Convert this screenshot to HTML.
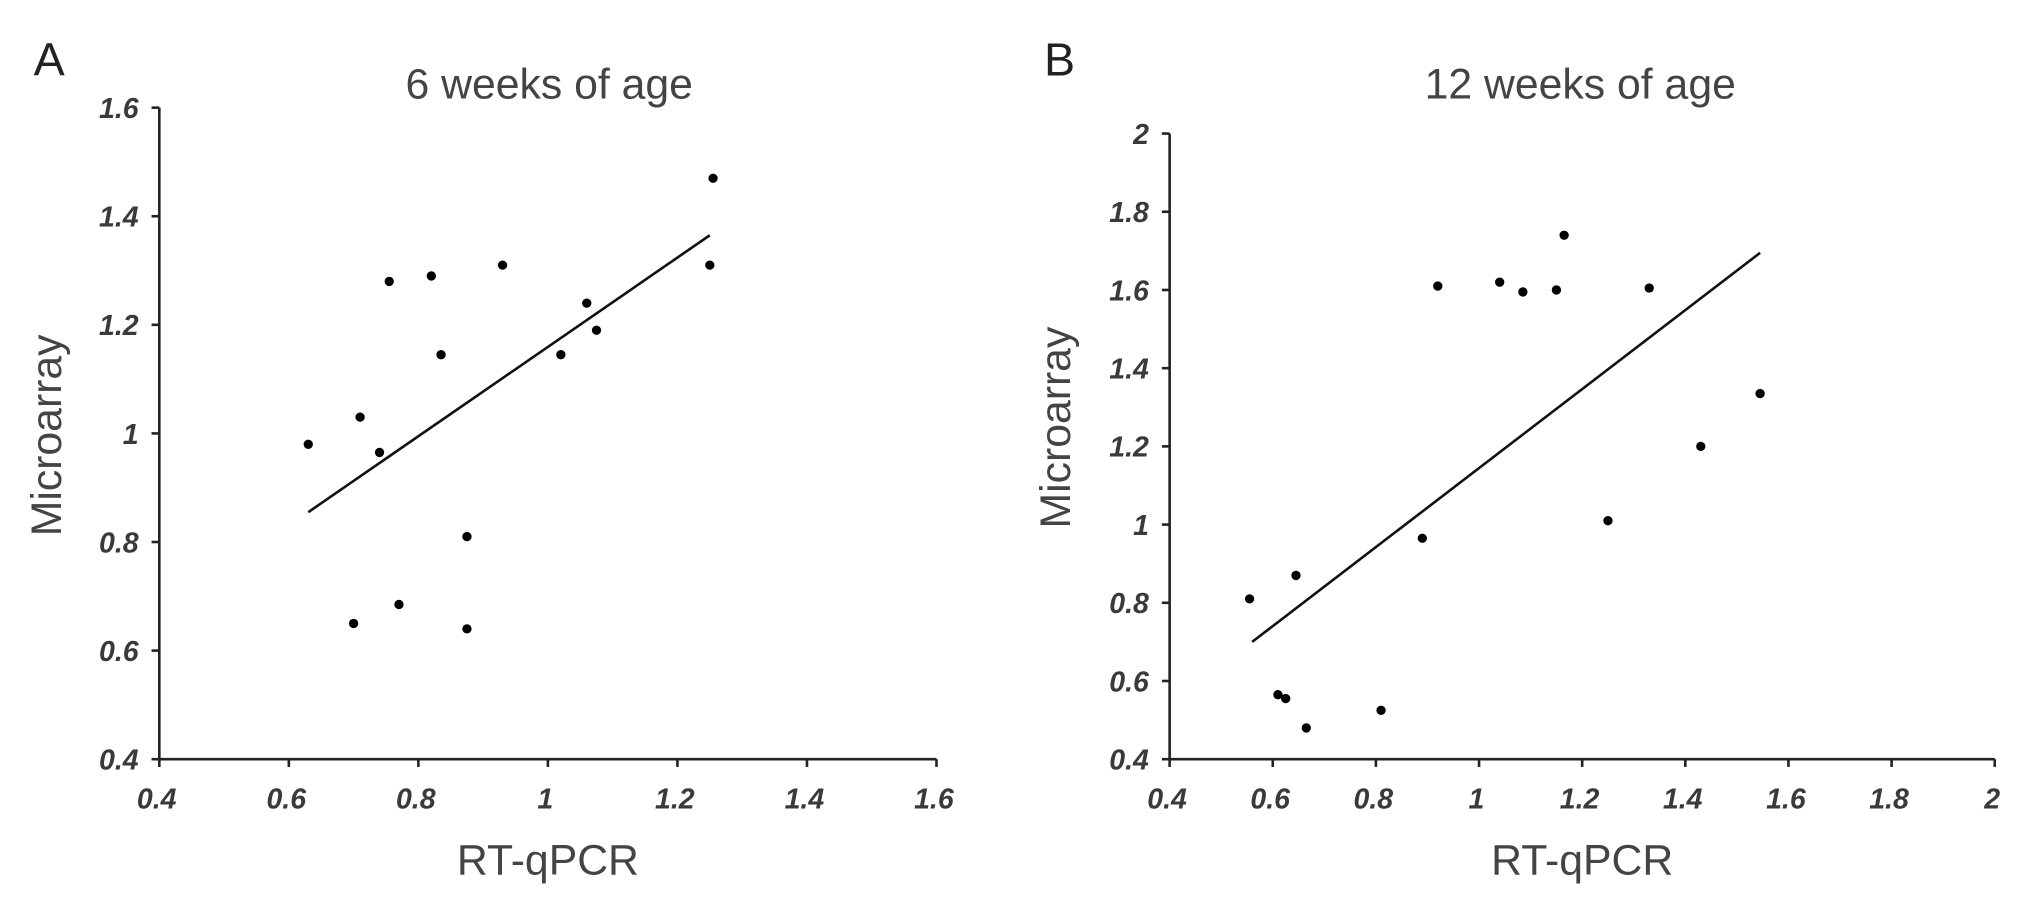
<!DOCTYPE html>
<html><head><meta charset="utf-8"><style>
body{margin:0;background:#fff;width:2031px;height:907px;overflow:hidden}
svg{display:block}
text{font-family:"Liberation Sans",sans-serif}
.tk{font-size:22px;font-weight:bold;font-style:italic;fill:#3a3a3a}
.lab{font-size:33px;fill:#444}
</style></head><body>
<svg id="chart" width="2031" height="907" viewBox="0 0 1568 700"></svg>
<script>
const xA = [0.63,0.71,0.74,0.755,0.82,0.835,0.93,1.02,1.06,1.075,1.25,1.255,0.875,0.70,0.77,0.875];
const yA = [0.98,1.03,0.965,1.28,1.29,1.145,1.31,1.145,1.24,1.19,1.31,1.47,0.81,0.65,0.685,0.64];
const fitA = [[0.63,0.855],[1.25,1.365]];
const xTicksA = [0.4,0.6,0.8,1,1.2,1.4,1.6];
const yTicksA = [0.4,0.6,0.8,1,1.2,1.4,1.6];
const xB = [0.555,0.645,0.61,0.625,0.665,0.81,0.89,0.92,1.04,1.085,1.15,1.165,1.33,1.25,1.43,1.545];
const yB = [0.81,0.87,0.565,0.555,0.48,0.525,0.965,1.61,1.62,1.595,1.60,1.74,1.605,1.01,1.20,1.335];
const fitB = [[0.56,0.70],[1.545,1.695]];
const xTicksB = [0.4,0.6,0.8,1,1.2,1.4,1.6,1.8,2];
const yTicksB = [0.4,0.6,0.8,1,1.2,1.4,1.6,1.8,2];
const NS="http://www.w3.org/2000/svg";
const svg=document.getElementById('chart');
function mk(tag,attrs,parent){const e=document.createElementNS(NS,tag);for(const k in attrs)e.setAttribute(k,attrs[k]);(parent||svg).appendChild(e);return e;}
function panel(o){
  const g=mk('g',{});
  
  
  const sx=v=>o.x0+(v-o.xmin)/(o.xmax-o.xmin)*(o.x1-o.x0);
  const sy=v=>o.y0-(v-o.ymin)/(o.ymax-o.ymin)*(o.y0-o.y1);
  const ya=mk('line',{x1:o.x0,y1:o.y1,x2:o.x0,y2:o.y0,stroke:'#222','stroke-width':2},g);
  
  
  const xa=mk('line',{x1:o.x0,y1:o.y0,x2:o.x1,y2:o.y0,stroke:'#222','stroke-width':2},g);
  
  
  o.yt.forEach(v=>{
    mk('line',{x1:o.x0-6,y1:sy(v),x2:o.x0,y2:sy(v),stroke:'#222','stroke-width':2},g);
    const t=mk('text',{x:o.x0-16,y:sy(v)+8,'text-anchor':'end',class:'tk'},g);
    t.textContent=v;
    
    
  });
  o.xt.forEach(v=>{
    mk('line',{x1:sx(v),y1:o.y0,x2:sx(v),y2:o.y0+6,stroke:'#222','stroke-width':2},g);
    const t=mk('text',{x:sx(v)-2,y:o.y0+38,'text-anchor':'middle',class:'tk'},g);
    t.textContent=v;
    
    
  });
  const fl=mk('line',{x1:sx(o.fit[0][0]),y1:sy(o.fit[0][1]),x2:sx(o.fit[1][0]),y2:sy(o.fit[1][1]),stroke:'#111','stroke-width':2},g);
  
  
  o.xs.forEach((v,i)=>{
    const c=mk('circle',{cx:sx(v),cy:sy(o.ys[i]),r:3.6,fill:'#000'},g);
    
    
  });
  const L=mk('text',{x:o.lx,y:58,style:'font-size:36px;fill:#222'},g);L.textContent=o.letter;
  
  
  const T=mk('text',{x:o.tx,y:76,'text-anchor':'middle',class:'lab'},g);T.textContent=o.title;
  
  
  const X=mk('text',{x:(o.x0+o.x1)/2,y:o.y0+89,'text-anchor':'middle',class:'lab'},g);X.textContent='RT-qPCR';
  
  
  const Y=mk('text',{x:0,y:0,'text-anchor':'middle',class:'lab',transform:`translate(${o.yl},${o.ylc}) rotate(-90)`},g);Y.textContent='Microarray';
  
  
}
panel({id:'a',letter:'A',lx:26,title:'6 weeks of age',tx:424,x0:123,x1:723,y0:586,y1:83,xmin:0.4,xmax:1.6,ymin:0.4,ymax:1.6,xt:xTicksA,yt:yTicksA,xs:xA,ys:yA,fit:fitA,yl:47,ylc:336});
panel({id:'b',letter:'B',lx:806,title:'12 weeks of age',tx:1220,x0:903,x1:1540,y0:586,y1:103,xmin:0.4,xmax:2,ymin:0.4,ymax:2,xt:xTicksB,yt:yTicksB,xs:xB,ys:yB,fit:fitB,yl:826,ylc:330});
</script>
</body></html>
